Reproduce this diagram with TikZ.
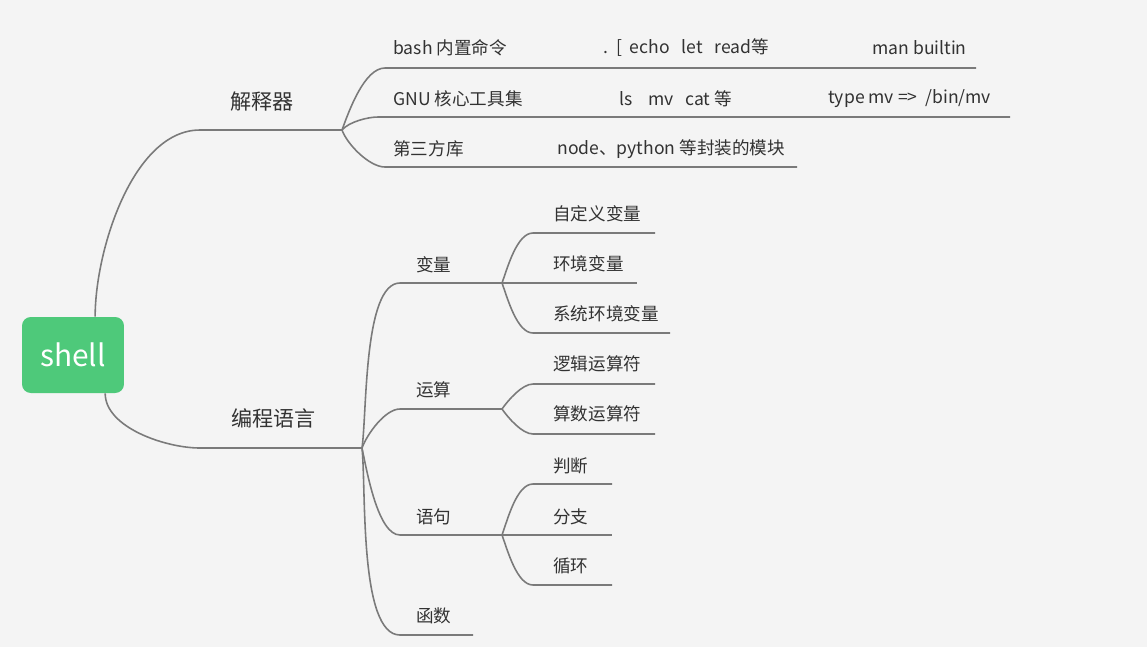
\documentclass[tikz,border=0pt]{standalone}
\usepackage{fontspec}
\setmainfont{Noto Sans CJK SC}
\usepackage{tikz}
\usetikzlibrary{positioning}
\definecolor{shellgreen}{RGB}{78,201,122}
\definecolor{linegray}{RGB}{122,122,122}
\definecolor{textgray}{RGB}{50,50,50}
\definecolor{bggray}{RGB}{244,244,244}

\begin{document}
\begin{tikzpicture}[
  x=0.02cm,y=0.02cm,
  root/.style={fill=shellgreen,rounded corners=5pt,minimum width=2.04cm,minimum height=1.52cm,
    text=white,font=\fontsize{17}{20}\selectfont,inner sep=0pt},
  topic/.style={anchor=west,inner sep=0pt,text=textgray,font=\fontsize{12}{14}\selectfont},
  leaf/.style={anchor=west,inner sep=0pt,text=textgray,font=\fontsize{10}{12}\selectfont},
  branch/.style={draw=linegray,line width=0.9pt}
]
\fill[bggray] (0,0) rectangle (1147,-647);
\node[root] (shell) at (73,-355) {shell};
\coordinate (interp-s) at (200,-130);
\coordinate (interp-b) at (342,-130);
\coordinate (prog-s) at (200,-448);
\coordinate (prog-b) at (362,-448);
\node[topic] (interp) at (230,-102) {解释器};
\node[topic] (prog) at (231,-418) {编程语言};
\draw[branch] (shell.60) to[out=90,in=180,looseness=0.8] (interp-s) -- (interp-b);
\draw[branch] (shell.-50) to[out=-90,in=180,looseness=0.8] (prog-s) -- (prog-b);
\coordinate (bash-s) at (385,-68);
\coordinate (bash-e) at (976,-68);
\coordinate (gnu-s) at (378,-117);
\coordinate (gnu-e) at (1010,-117);
\coordinate (lib-s) at (385,-167);
\coordinate (lib-e) at (797,-167);
\draw[branch] (interp-b) to[out=70,in=180,looseness=0.7] (bash-s) -- (bash-e);
\draw[branch] (interp-b) to[out=50,in=180,looseness=0.7] (gnu-s) -- (gnu-e);
\draw[branch] (interp-b) to[out=-70,in=180,looseness=0.7] (lib-s) -- (lib-e);
\node[leaf] (bash) at (393,-48) {bash 内置命令};
\node[leaf] (bash-cmd) at (603,-48) {.\ \ [\ \ echo\ \ \ let\ \ \ read等};
\node[leaf] (bash-man) at (872,-48) {man builtin};
\node[leaf] (gnu) at (393,-99) {GNU 核心工具集};
\node[leaf] (gnu-cmd) at (619,-99) {ls\ \ \ \ mv\ \ \ cat 等};
\node[leaf] (gnu-type) at (828,-99) {type mv =>\ \ /bin/mv};
\node[leaf] (lib) at (393,-149) {第三方库};
\node[leaf] (lib-mod) at (557,-149) {node、python 等封装的模块};
\coordinate (var-s) at (400,-283);
\coordinate (var-b) at (502,-283);
\coordinate (op-s) at (400,-409);
\coordinate (op-b) at (502,-409);
\coordinate (stmt-s) at (400,-535);
\coordinate (stmt-b) at (502,-535);
\coordinate (func-s) at (400,-635);
\coordinate (func-e) at (473,-635);
\draw[branch] (prog-b) to[out=82,in=180,looseness=0.55] (var-s) -- (var-b);
\draw[branch] (prog-b) to[out=70,in=180,looseness=0.7] (op-s) -- (op-b);
\draw[branch] (prog-b) to[out=-78,in=180,looseness=0.6] (stmt-s) -- (stmt-b);
\draw[branch] (prog-b) to[out=-84,in=180,looseness=0.55] (func-s) -- (func-e);
\node[leaf] (var) at (416,-265) {变量};
\node[leaf] (op) at (416,-390) {运算};
\node[leaf] (stmt) at (416,-517) {语句};
\node[leaf] (func) at (416,-616) {函数};
\coordinate (custom-s) at (533,-233);
\coordinate (custom-e) at (655,-233);
\coordinate (env-e) at (637,-283);
\coordinate (sysenv-s) at (533,-333);
\coordinate (sysenv-e) at (670,-333);
\draw[branch] (var-b) to[out=70,in=180,looseness=0.7] (custom-s) -- (custom-e);
\draw[branch] (var-b) -- (env-e);
\draw[branch] (var-b) to[out=-70,in=180,looseness=0.7] (sysenv-s) -- (sysenv-e);
\node[leaf] (custom) at (553,-214) {自定义变量};
\node[leaf] (env) at (553,-264) {环境变量};
\node[leaf] (sysenv) at (553,-314) {系统环境变量};
\coordinate (logic-s) at (533,-384);
\coordinate (logic-e) at (655,-384);
\coordinate (arith-s) at (533,-434);
\coordinate (arith-e) at (655,-434);
\draw[branch] (op-b) to[out=55,in=180,looseness=0.7] (logic-s) -- (logic-e);
\draw[branch] (op-b) to[out=-55,in=180,looseness=0.7] (arith-s) -- (arith-e);
\node[leaf] (logic) at (553,-364) {逻辑运算符};
\node[leaf] (arith) at (553,-414) {算数运算符};
\coordinate (judge-s) at (533,-484);
\coordinate (judge-e) at (612,-484);
\coordinate (branch-e) at (612,-535);
\coordinate (loop-s) at (533,-585);
\coordinate (loop-e) at (612,-585);
\draw[branch] (stmt-b) to[out=70,in=180,looseness=0.7] (judge-s) -- (judge-e);
\draw[branch] (stmt-b) -- (branch-e);
\draw[branch] (stmt-b) to[out=-70,in=180,looseness=0.7] (loop-s) -- (loop-e);
\node[leaf] (judge) at (553,-466) {判断};
\node[leaf] (fork) at (553,-517) {分支};
\node[leaf] (loop) at (553,-566) {循环};
\end{tikzpicture}
\end{document}
